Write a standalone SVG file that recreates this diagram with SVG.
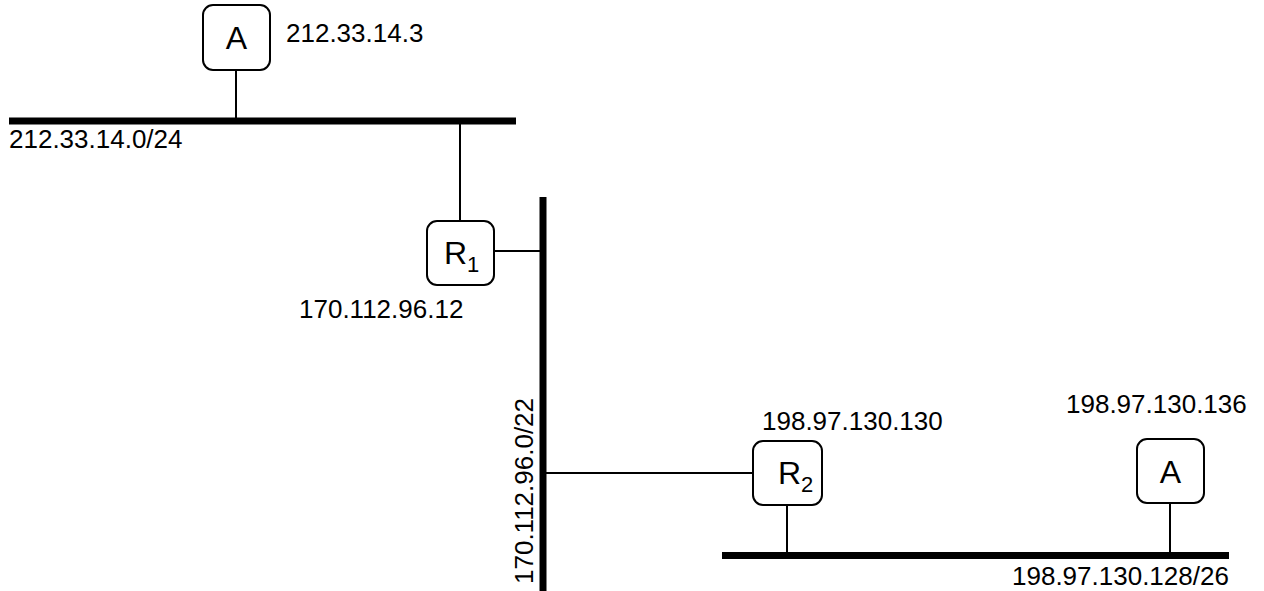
<svg xmlns="http://www.w3.org/2000/svg" width="1264" height="591" viewBox="0 0 1264 591">
<style>
.box{fill:#fff;stroke:#000;stroke-width:2}
.bus{stroke:#000;stroke-width:7;fill:none}
.ln{stroke:#000;stroke-width:2;fill:none}
.nl{font-family:"Liberation Sans",Arial,sans-serif;font-size:32px;fill:#000}
.sub{font-size:22px}
.al{font-family:"Liberation Sans",Arial,sans-serif;font-size:26px;fill:#000}
</style>
<rect width="1264" height="591" fill="#fff"/>
<g id="connectors">
<line class="bus" x1="9" y1="121" x2="516" y2="121"/>
<line class="bus" x1="543" y1="197" x2="543" y2="591"/>
<line class="bus" x1="722" y1="555.5" x2="1229" y2="555.5"/>
<line class="ln" x1="236" y1="70" x2="236" y2="121"/>
<line class="ln" x1="460" y1="121" x2="460" y2="221"/>
<line class="ln" x1="488" y1="251" x2="543" y2="251"/>
<line class="ln" x1="543" y1="473" x2="753" y2="473"/>
<line class="ln" x1="787" y1="505" x2="787" y2="555"/>
<line class="ln" x1="1170" y1="503" x2="1170" y2="555"/>
</g>
<g id="nodeA1">
<rect class="box" x="203" y="5" width="67" height="65" rx="10"/>
<text class="nl" x="236.5" y="49" text-anchor="middle">A</text>
</g>
<g id="nodeR1">
<rect class="box" x="427" y="221" width="67" height="64" rx="10"/>
<text class="nl" x="444" y="264">R<tspan class="sub" dy="8">1</tspan></text>
</g>
<g id="nodeR2">
<rect class="box" x="753" y="441" width="69" height="64" rx="10"/>
<text class="nl" x="778" y="484">R<tspan class="sub" dy="8">2</tspan></text>
</g>
<g id="nodeA2">
<rect class="box" x="1137" y="439" width="67" height="64" rx="10"/>
<text class="nl" x="1170.5" y="483" text-anchor="middle">A</text>
</g>
<g id="labels">
<text class="al" x="286" y="42">212.33.14.3</text>
<text class="al" x="9" y="148">212.33.14.0/24</text>
<text class="al" x="299" y="318">170.112.96.12</text>
<text class="al" x="762" y="430">198.97.130.130</text>
<text class="al" x="1066" y="413">198.97.130.136</text>
<text class="al" x="1012" y="585">198.97.130.128/26</text>
<text class="al" transform="translate(533,584) rotate(-90)">170.112.96.0/22</text>
</g>
</svg>
